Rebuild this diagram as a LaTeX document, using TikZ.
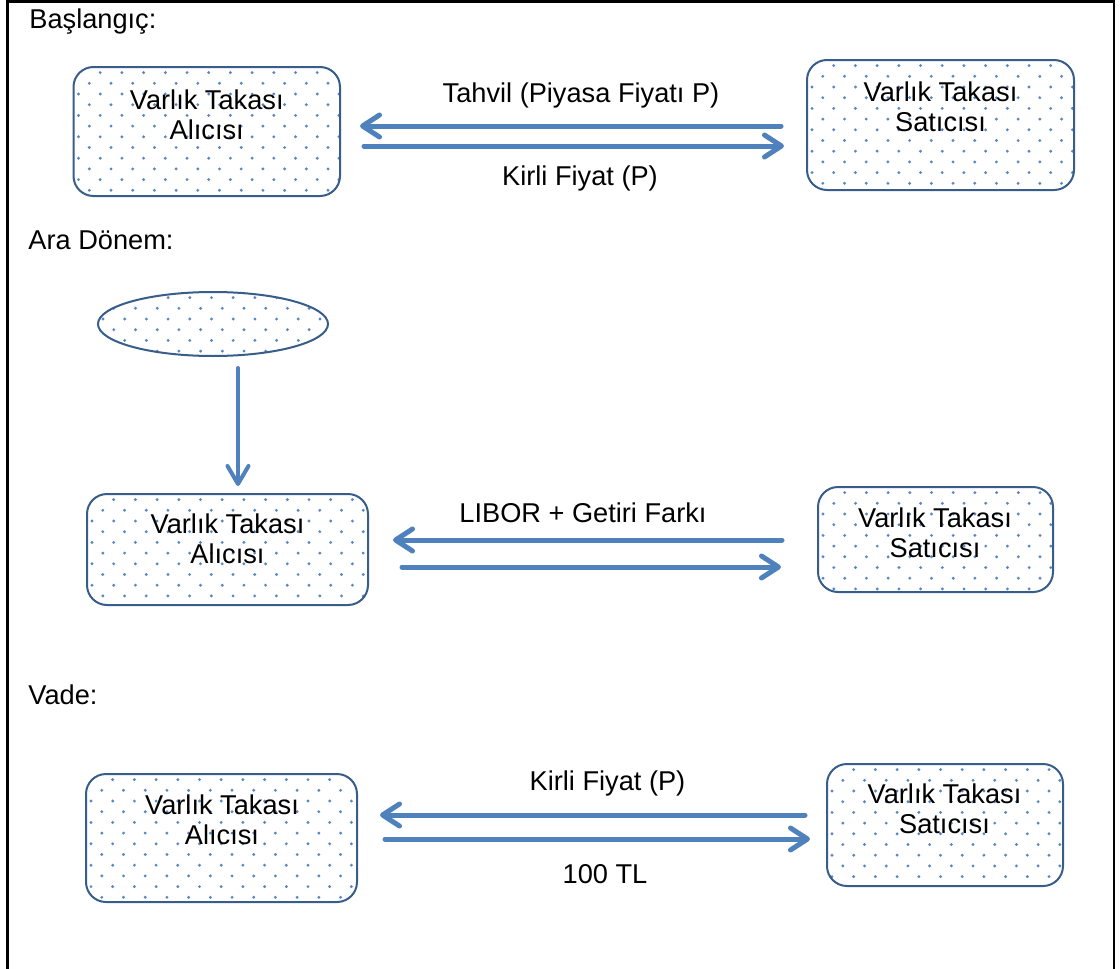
\documentclass[tikz,border=0pt]{standalone}
\usepackage{fontspec}
\setmainfont{Liberation Sans}
\usetikzlibrary{arrows.meta,shapes.geometric,calc}

\definecolor{flowblue}{RGB}{79,129,189}
\definecolor{edgeblue}{RGB}{56,93,138}
\definecolor{dotblue}{RGB}{88,134,198}

% staggered dot grid used as the fill of the shapes
\newcommand\dotgrid{%
  \foreach \r in {0,...,13}{%
    \foreach \c in {0,...,14}{%
      \pgfmathsetmacro\xx{\c*10.85+mod(\r,2)*5.42+2.5}%
      \pgfmathsetmacro\yy{-\r*5.35-2.8}%
      \fill[dotblue] ([shift={(\xx pt,\yy pt)}]path picture bounding box.north west) circle[radius=0.8pt];
    }%
  }%
}

\tikzset{
  txt/.style={font=\fontsize{13.6}{15}\selectfont, inner sep=0pt},
  party/.style={draw=edgeblue, line width=1pt, rounded corners=10pt, fill=white,
    inner sep=0pt, path picture={\dotgrid}},
  source/.style={ellipse, draw=edgeblue, line width=1pt, fill=white,
    inner sep=0pt, path picture={\dotgrid}},
  partytext/.style={txt, align=center},
  phase/.style={txt, anchor=base west},
  flow/.style={draw=flowblue, line width=2.5pt, line cap=round,
    -{Straight Barb[length=8.5pt,width=11pt,round]}},
  feed/.style={draw=flowblue, line width=2pt, line cap=round,
    -{Straight Barb[length=9pt,width=10.5pt,round]}},
}

\begin{document}
\begin{tikzpicture}[x=0.5pt,y=-0.5pt]
\useasboundingbox (0,0) rectangle (1120,969);

% outer frame
\draw[line width=1.4pt] (7.5,990) -- (7.5,1.3) -- (1114,1.3) -- (1114,990);

% ---------- Başlangıç ----------
\node[phase] (p1) at (29,28) {Başlangıç:};

\node[party, minimum width=133.25pt, minimum height=64.5pt] (b1) at (206.75,131.5) {};
\node[partytext] (b1t) at (206.75,115) {Varlık Takası\\Alıcısı};
\node[party, minimum width=133.5pt, minimum height=65pt] (b2) at (940.5,125) {};
\node[partytext] (b2t) at (940.5,107) {Varlık Takası\\Satıcısı};

\coordinate (a1s) at (781,126);
\coordinate (a1e) at (360,126);
\coordinate (a2s) at (364,146);
\coordinate (a2e) at (784,146);
\draw[flow] (a1s) -- (a1e);
\draw[flow] (a2s) -- (a2e);
\node[txt] (l1) at (581,95) {Tahvil (Piyasa Fiyatı P)};
\node[txt] (l2) at (580,178) {Kirli Fiyat (P)};

% ---------- Ara Dönem ----------
\node[phase] (p2) at (28,249) {Ara Dönem:};

\node[source, minimum width=115pt, minimum height=32pt] (src) at (213,324) {};
\coordinate (fs) at (238,368);
\coordinate (fe) at (238,486);
\draw[feed] (fs) -- (fe);

\node[party, minimum width=140.5pt, minimum height=55.5pt] (b3) at (227.5,549.5) {};
\node[partytext] (b3t) at (227.5,539) {Varlık Takası\\Alıcısı};
\node[party, minimum width=117.5pt, minimum height=52.5pt] (b4) at (935.5,539.5) {};
\node[partytext] (b4t) at (935,533) {Varlık Takası\\Satıcısı};

\coordinate (a3s) at (782,540);
\coordinate (a3e) at (393,540);
\coordinate (a4s) at (402,567);
\coordinate (a4e) at (781,567);
\draw[flow] (a3s) -- (a3e);
\draw[flow] (a4s) -- (a4e);
\node[txt] (l3) at (583,512.5) {LIBOR + Getiri Farkı};

% ---------- Vade ----------
\node[phase] (p3) at (28,704) {Vade:};

\node[party, minimum width=135.5pt, minimum height=64pt] (b5) at (221.5,838) {};
\node[partytext] (b5t) at (222,820) {Varlık Takası\\Alıcısı};
\node[party, minimum width=118pt, minimum height=61pt] (b6) at (945,825) {};
\node[partytext] (b6t) at (944.5,809) {Varlık Takası\\Satıcısı};

\coordinate (a5s) at (805,815);
\coordinate (a5e) at (380,815);
\coordinate (a6s) at (385,839);
\coordinate (a6e) at (810,839);
\draw[flow] (a5s) -- (a5e);
\draw[flow] (a6s) -- (a6e);
\node[txt] (l5) at (607.5,783) {Kirli Fiyat (P)};
\node[txt] (l6) at (605,874.5) {100 TL};

\end{tikzpicture}
\end{document}
